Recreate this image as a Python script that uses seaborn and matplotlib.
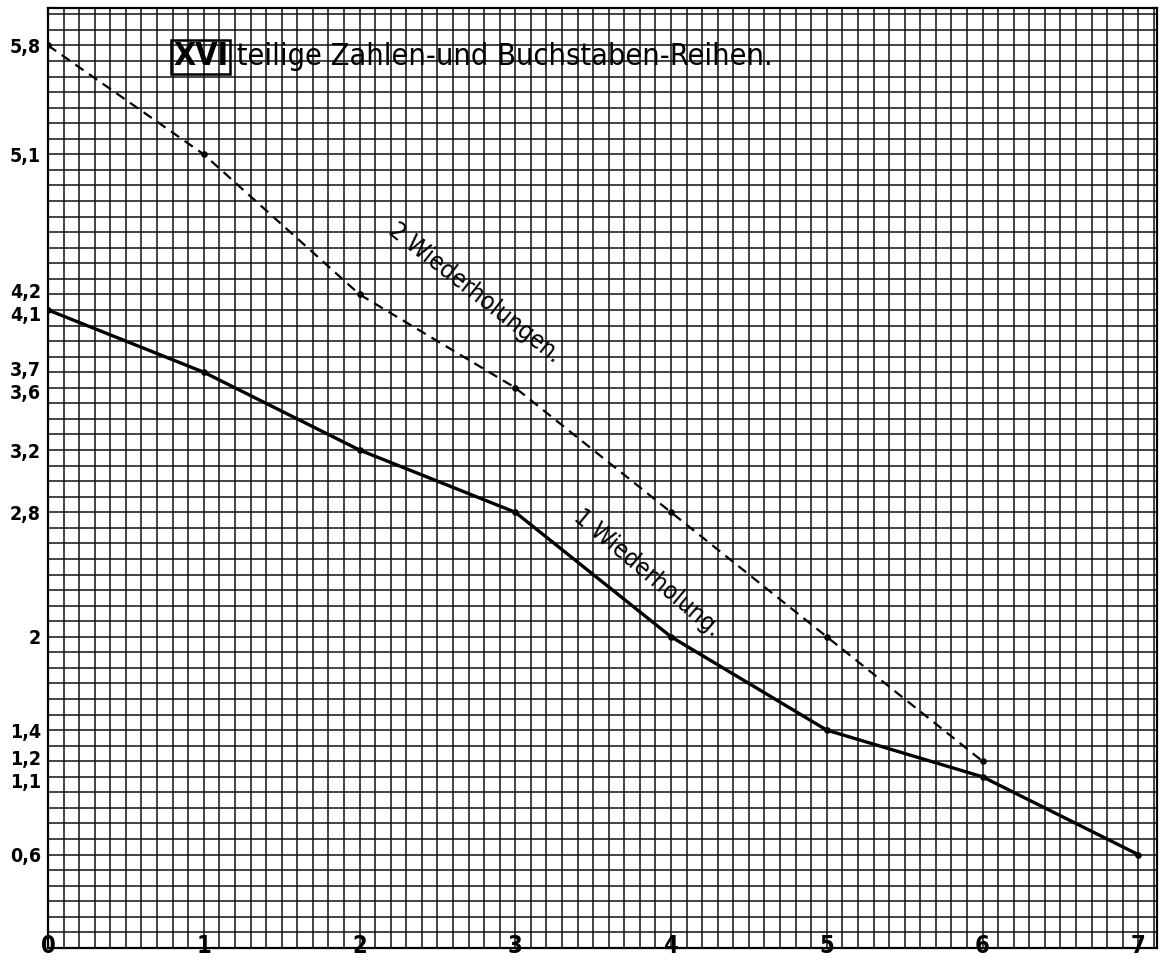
import numpy as np
import pandas as pd
import matplotlib.pyplot as plt
import matplotlib.transforms as mtransforms
import seaborn as sns

# Data
x_one = [0, 1, 2, 3, 4, 5, 6, 7]
y_one = [4.1, 3.7, 3.2, 2.8, 2.0, 1.4, 1.1, 0.6]          # 1 Wiederholung
x_two = [0, 1, 2, 3, 4, 5, 6]
y_two = [5.8, 5.1, 4.2, 3.6, 2.8, 2.0, 1.2]               # 2 Wiederholungen

x_ticks = [0, 1, 2, 3, 4, 5, 6, 7]
y_tick_vals = [5.8, 5.1, 4.2, 4.1, 3.7, 3.6, 3.2, 2.8, 2.0, 1.4, 1.2, 1.1, 0.6]
y_tick_labels = ['5,8', '5,1', '4,2', '4,1', '3,7', '3,6', '3,2', '2,8', '2',
                 '1,4', '1,2', '1,1', '0,6']

title_num = 'XVI'
title_rest = ' teilige Zahlen-und Buchstaben-Reihen.'
label_one = '1 Wiederholung.'
label_two = '2 Wiederholungen.'

sns.set_style('white')
plt.rcParams['font.family'] = ['DejaVu Sans']
plt.rcParams['font.stretch'] = 'condensed'
plt.rcParams['text.color'] = 'black'
plt.rcParams['xtick.color'] = 'black'
plt.rcParams['ytick.color'] = 'black'

df_one = pd.DataFrame({'x': x_one, 'y': y_one})
df_two = pd.DataFrame({'x': x_two, 'y': y_two})

fig = plt.figure(figsize=(11.6, 9.63), dpi=100)
ax = fig.add_axes([0.0414, 0.0156, 0.956, 0.976])

# graph paper grid, every 0.1
ax.set_xlim(0, 7.12)
ax.set_ylim(0, 6.04)
ax.set_xticks(np.round(np.arange(0, 7.12, 0.1), 2), minor=True)
ax.set_yticks(np.round(np.arange(0, 6.04, 0.1), 2), minor=True)
ax.set_xticks(x_ticks)
ax.set_xticklabels([str(v) for v in x_ticks])
ax.set_yticks(y_tick_vals)
ax.set_yticklabels(y_tick_labels)
ax.grid(which='both', color='#111111', linewidth=1.1)
ax.set_axisbelow(True)

sns.lineplot(data=df_two, x='x', y='y', ax=ax, color='black', linewidth=1.6,
             linestyle=(0, (4.5, 3)), marker='o', markersize=4,
             markeredgecolor='black')
sns.lineplot(data=df_one, x='x', y='y', ax=ax, color='black', linewidth=2.4,
             marker='o', markersize=4, markeredgecolor='black')

ax.set_xlabel('')
ax.set_ylabel('')
ax.tick_params(axis='both', length=0)
ax.tick_params(axis='x', pad=-10, labelsize=17)
ax.tick_params(axis='y', pad=5, labelsize=14)
for lab in ax.get_xticklabels() + ax.get_yticklabels():
    lab.set_fontweight('bold')

# nudge the close pairs of y labels apart a little
upper = {'4,2', '3,7', '1,2'}
lower = {'4,1', '3,6', '1,1'}
for lab in ax.get_yticklabels():
    if lab.get_text() in upper:
        lab.set_transform(lab.get_transform() + mtransforms.ScaledTranslation(0, 2.5 / 72, fig.dpi_scale_trans))
    elif lab.get_text() in lower:
        lab.set_transform(lab.get_transform() + mtransforms.ScaledTranslation(0, -2.5 / 72, fig.dpi_scale_trans))

for sp in ax.spines.values():
    sp.set_visible(True)
    sp.set_color('black')
    sp.set_linewidth(1.6)

# title with boxed roman numeral
t1 = ax.text(0.1127, 0.948, title_num, transform=ax.transAxes, ha='left',
             va='center', fontsize=23, fontweight='bold',
             bbox=dict(boxstyle='square,pad=0.05', fc='none', ec='black', lw=1.8))
ax.annotate(title_rest, xy=(1, 0.5), xycoords=t1, ha='left', va='center',
            fontsize=22)

# labels along the lines
ax.text(2.74, 4.21, label_two, rotation=-38, ha='center', va='center',
        fontsize=18, rotation_mode='anchor')
ax.text(3.85, 2.41, label_one, rotation=-40, ha='center', va='center',
        fontsize=18, rotation_mode='anchor')

fig.savefig('out.png', dpi=100)
